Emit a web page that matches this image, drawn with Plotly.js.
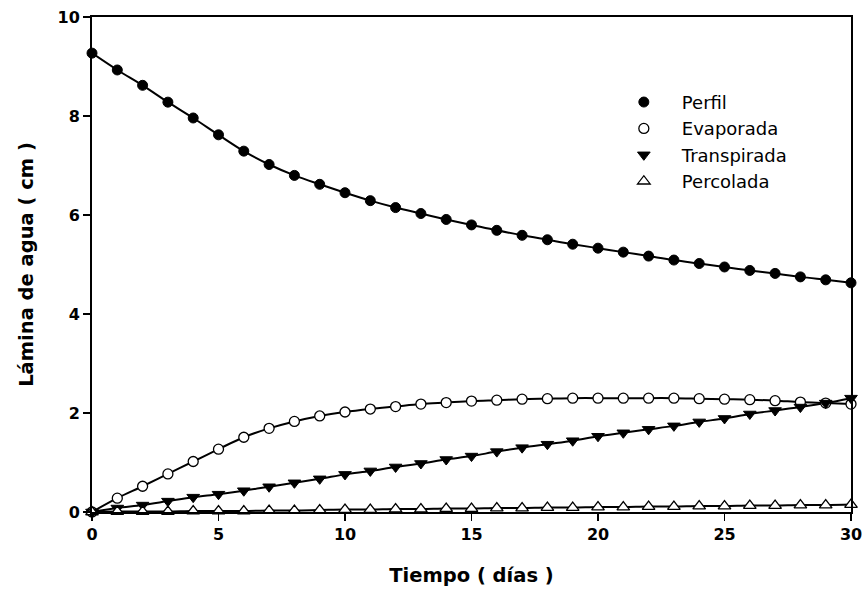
<!DOCTYPE html>
<html>
<head>
<meta charset="utf-8">
<script src="https://cdn.plot.ly/plotly-3.0.1.min.js"></script>
<style>html,body{margin:0;padding:0;background:#fff;}#chart{width:865px;height:596px;}</style>
</head>
<body>
<div id="chart"></div>
<script>
const dias = [0,1,2,3,4,5,6,7,8,9,10,11,12,13,14,15,16,17,18,19,20,21,22,23,24,25,26,27,28,29,30];
const perfil = [9.27,8.93,8.62,8.28,7.96,7.62,7.29,7.02,6.80,6.62,6.45,6.29,6.15,6.03,5.91,5.80,5.69,5.59,5.50,5.41,5.33,5.25,5.17,5.09,5.02,4.95,4.88,4.82,4.75,4.69,4.63];
const evaporada = [0.00,0.28,0.52,0.77,1.02,1.27,1.51,1.69,1.83,1.94,2.02,2.08,2.13,2.18,2.21,2.24,2.26,2.28,2.29,2.30,2.30,2.30,2.30,2.30,2.29,2.28,2.27,2.25,2.22,2.20,2.18];
const transpirada = [0.00,0.08,0.14,0.22,0.30,0.36,0.43,0.51,0.59,0.67,0.76,0.83,0.91,0.98,1.06,1.13,1.22,1.30,1.37,1.44,1.53,1.60,1.67,1.74,1.82,1.89,1.98,2.05,2.12,2.20,2.30];
const percolada = [0.00,0.01,0.01,0.01,0.02,0.02,0.02,0.03,0.03,0.04,0.05,0.05,0.06,0.06,0.07,0.07,0.08,0.08,0.09,0.09,0.10,0.10,0.11,0.11,0.12,0.12,0.13,0.13,0.14,0.14,0.15];
const nombres = ["Perfil","Evaporada","Transpirada","Percolada"];
const xTicks = [0,5,10,15,20,25,30];
const yTicks = [0,2,4,6,8,10];

const series = [perfil, evaporada, transpirada, percolada];
const markerStyles = [
  {symbol:"circle", size:10, color:"#000", line:{color:"#000", width:1}},
  {symbol:"circle", size:10, color:"#fff", line:{color:"#000", width:1.3}},
  {symbol:"triangle-down", size:11, color:"#000", line:{color:"#000", width:1}},
  {symbol:"triangle-up", size:11, color:"#fff", line:{color:"#000", width:1.3}}
];

const traces = [];
series.forEach((s) => {
  traces.push({x:dias, y:s, mode:"lines", type:"scatter", showlegend:false, hoverinfo:"skip",
    line:{color:"#000", width:2, shape:"spline", smoothing:1}, cliponaxis:false});
});
series.forEach((s, i) => {
  traces.push({x:dias, y:s, mode:"markers", type:"scatter", name:nombres[i],
    marker:markerStyles[i], cliponaxis:false});
});

const axisFont = {family:"DejaVu Sans, sans-serif", size:16, color:"#000", weight:"bold"};
const titleFont = {family:"DejaVu Sans, sans-serif", size:19.5, color:"#000", weight:"bold"};

const layout = {
  width:865, height:596,
  margin:{l:92, r:14, t:17, b:84},
  paper_bgcolor:"#fff", plot_bgcolor:"#fff",
  showlegend:true,
  legend:{x:0.677, xanchor:"left", y:0.865, yanchor:"top", bgcolor:"rgba(0,0,0,0)",
    font:{family:"DejaVu Sans, sans-serif", size:18, color:"#000"},
    itemwidth:66, tracegroupgap:0},
  xaxis:{range:[0,30], tickvals:xTicks, ticktext:xTicks.map(String), ticks:"outside", ticklen:7, tickwidth:1.5, tickcolor:"#000",
    showline:true, linecolor:"#000", linewidth:2, mirror:true, showgrid:false, zeroline:false,
    tickfont:axisFont, title:{text:"Tiempo ( días )", font:titleFont, standoff:25}},
  yaxis:{range:[0,10], tickvals:yTicks, ticktext:yTicks.map(String), ticks:"outside", ticklen:7, tickwidth:1.5, tickcolor:"#000",
    showline:true, linecolor:"#000", linewidth:2, mirror:true, showgrid:false, zeroline:false,
    tickfont:axisFont, title:{text:"Lámina de agua ( cm )", font:titleFont, standoff:19}}
};

Plotly.newPlot("chart", traces, layout, {displayModeBar:false, staticPlot:true});
</script>
</body>
</html>
